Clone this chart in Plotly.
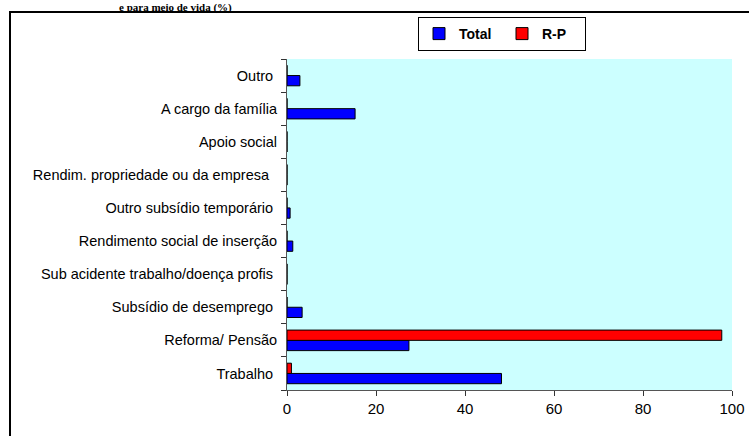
import plotly.graph_objects as go

categories = [
    "Trabalho",
    "Reforma/ Pensão",
    "Subsídio de desemprego",
    "Sub acidente trabalho/doença profis",
    "Rendimento social de inserção",
    "Outro subsídio temporário",
    "Rendim. propriedade ou da empresa",
    "Apoio social",
    "A cargo da família",
    "Outro",
]
# tick labels as shown (some carry a trailing space in the original)
tick_labels = [
    "Trabalho\u00a0",
    "Reforma/ Pensão",
    "Subsídio de desemprego\u00a0",
    "Sub acidente trabalho/doença profis\u00a0",
    "Rendimento social de inserção",
    "Outro subsídio temporário\u00a0",
    "Rendim. propriedade ou da empresa\u00a0\u00a0",
    "Apoio social",
    "A cargo da família",
    "Outro\u00a0",
]
total_values = [48.2, 27.4, 3.4, 0.0, 1.3, 0.7, 0.0, 0.0, 15.3, 2.9]
rp_values = [1.0, 97.7, 0.0, 0.0, 0.0, 0.0, 0.0, 0.0, 0.0, 0.0]
x_ticks = [0, 20, 40, 60, 80, 100]
title_text = "e para meio de vida (%)"

W, H = 749, 436
L, R, T, B = 287, 17, 59, 46
pw, ph = W - L - R, H - T - B

def px_x(x):
    return (x - L) / pw

def px_y(y):
    return (H - B - y) / ph

fig = go.Figure()
fig.add_trace(go.Bar(
    y=categories, x=total_values, orientation="h", name="Total",
    marker=dict(color="#0000FF", line=dict(color="#000000", width=1)),
))
fig.add_trace(go.Bar(
    y=categories, x=rp_values, orientation="h", name="R-P",
    marker=dict(color="#FF0000", line=dict(color="#000000", width=1)),
))

fig.update_layout(
    width=W, height=H,
    margin=dict(l=L, r=R, t=T, b=B, pad=0, autoexpand=False),
    paper_bgcolor="white",
    plot_bgcolor="#CCFFFF",
    barmode="group",
    bargap=0.38,
    bargroupgap=0.0,
    font=dict(family="Liberation Sans, Arial, sans-serif", color="black"),
    legend=dict(
        orientation="h",
        x=px_x(418), y=px_y(17), xanchor="left", yanchor="top",
        bgcolor="white", bordercolor="black", borderwidth=1,
        font=dict(size=14, family="Liberation Sans, Arial, sans-serif", weight="bold"),
        traceorder="normal",
        entrywidth=38,
        itemwidth=30,
    ),
    xaxis=dict(
        range=[0, 100], tickvals=x_ticks, showgrid=False, zeroline=False,
        showline=True, linecolor="#555555", linewidth=1,
        ticks="outside", ticklen=5, tickcolor="#333333",
        tickfont=dict(size=15), fixedrange=True, automargin=False,
    ),
    yaxis=dict(
        type="category", categoryorder="array", categoryarray=categories,
        tickmode="array", tickvals=categories, ticktext=tick_labels,
        showgrid=False, zeroline=False,
        showline=True, linecolor="#555555", linewidth=1,
        ticks="outside", ticklen=5, tickcolor="#333333", tickson="boundaries",
        tickfont=dict(size=14.5), ticklabelstandoff=6, fixedrange=True,
        automargin=False,
    ),
    shapes=[dict(
        type="rect", xref="paper", yref="paper",
        x0=px_x(10), x1=px_x(W + 40), y0=px_y(H + 40), y1=px_y(12),
        line=dict(color="black", width=2), fillcolor="rgba(0,0,0,0)", layer="below",
    )],
    annotations=[dict(
        text=title_text, xref="paper", yref="paper",
        x=px_x(118), y=px_y(0), xanchor="left", yanchor="top",
        showarrow=False, borderpad=0,
        font=dict(family="Liberation Serif, Times New Roman, serif", size=11, weight="bold"),
    )],
)

fig.write_html(
    "out.html",
    config={"displayModeBar": False, "staticPlot": True},
    post_script="document.body.style.margin='0';document.body.style.padding='0';",
)
